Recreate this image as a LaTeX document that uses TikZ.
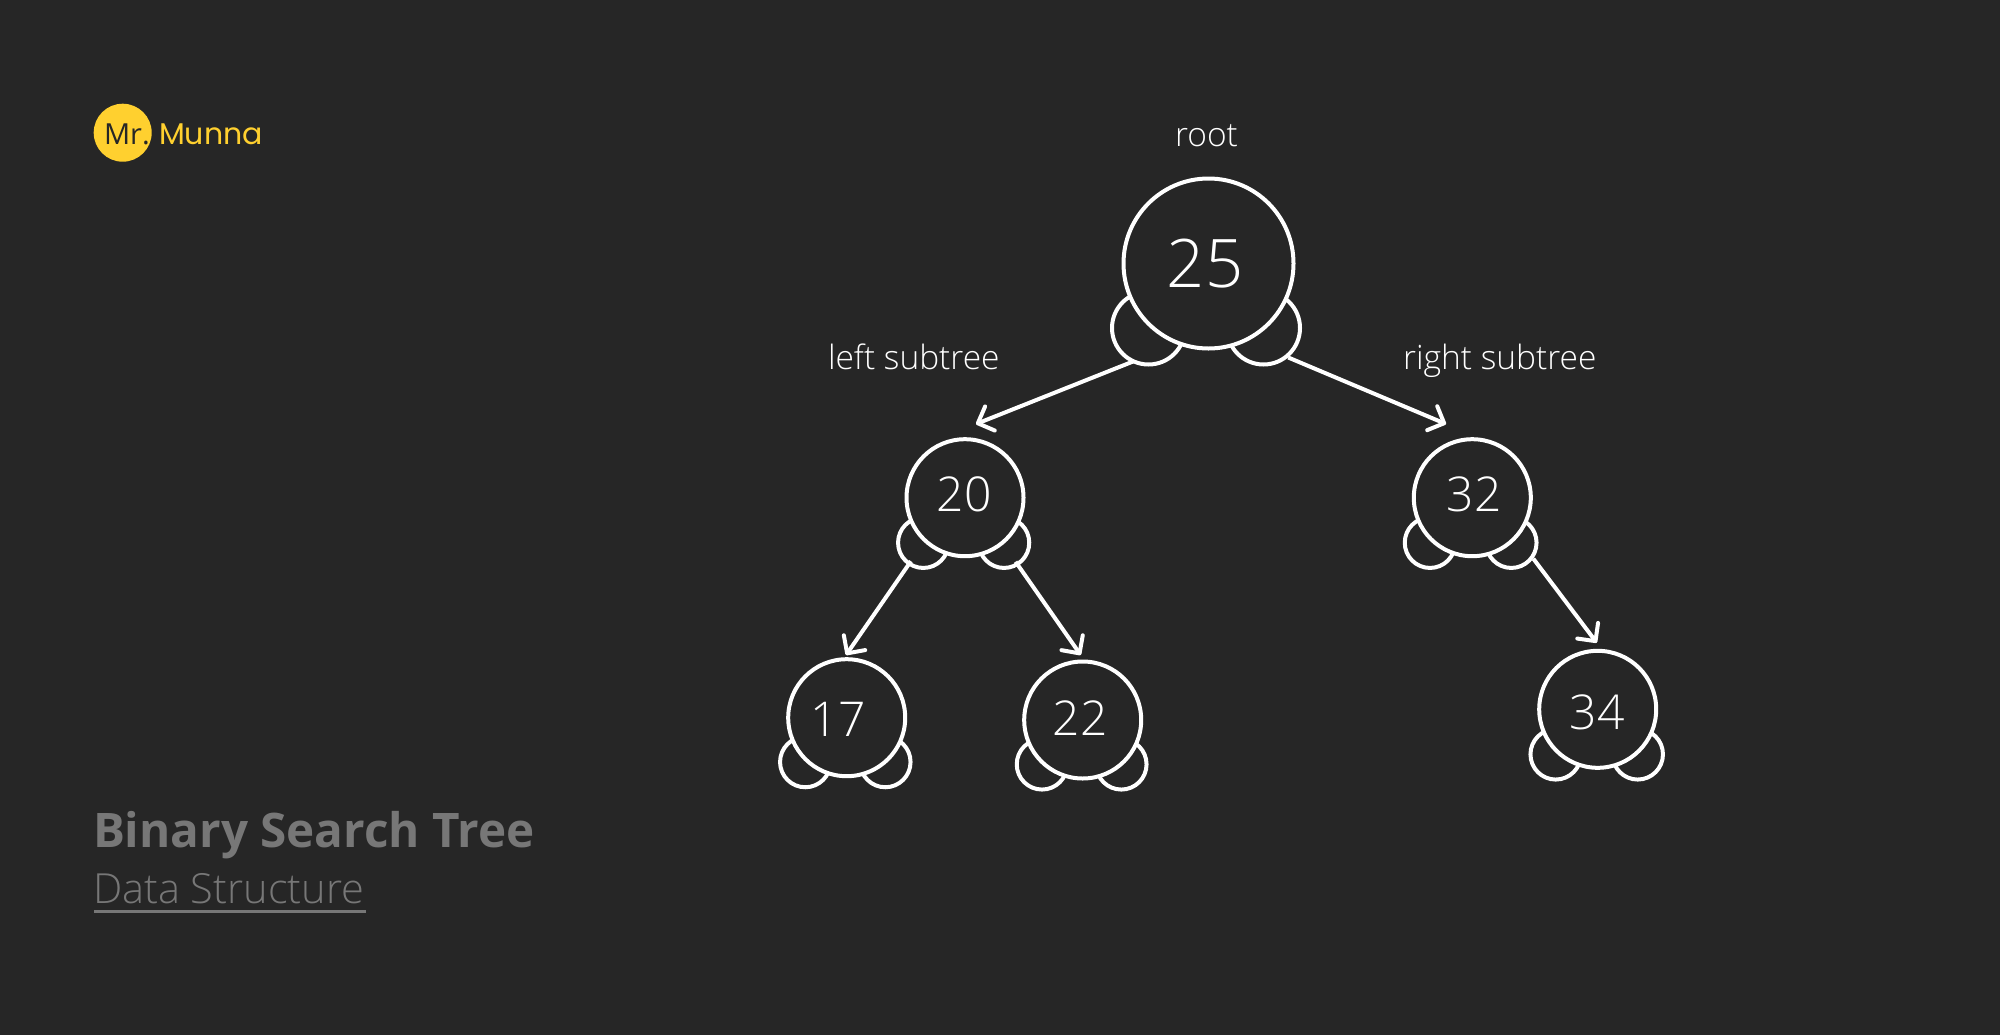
\documentclass[tikz,border=0pt]{standalone}
\usepackage{fontspec}
\usepackage{tikz}
\usetikzlibrary{arrows.meta}
\setmainfont{Open Sans}[UprightFont=* Light]
\newfontfamily\boldfont{Open Sans}[UprightFont=* Bold]
\newfontfamily\regfont{Open Sans}
\newfontfamily\logofont{Poppins}
\definecolor{bgdark}{HTML}{262626}
\definecolor{logoyellow}{HTML}{FFD02F}
\definecolor{titlegray}{HTML}{777777}

\begin{document}
\begin{tikzpicture}[x=1pt,y=-1pt,->,>={Straight Barb[length=13pt,width=26pt,round]},line width=4pt,white,
  tree node/.style={circle,fill=bgdark,draw=white,inner sep=0pt,minimum size=117pt},
  big node/.style={tree node,minimum size=170pt},
  cap node/.style={circle,draw=white,inner sep=0pt,minimum size=50.5pt},
  big cap/.style={cap node,minimum size=73pt},
  number/.style={inner sep=0pt,font=\fontsize{48}{48}\selectfont},
  big number/.style={number,font=\fontsize{67}{67}\selectfont},
  label node/.style={inner sep=0pt,anchor=base west,font=\fontsize{33.5}{33.5}\selectfont},
  inside/.style={shorten <=-5pt}]

  \useasboundingbox (0,0) rectangle (2000,1034);
  \fill[bgdark] (-5,-5) rectangle (2005,1039);

  % logo
  \node[circle,fill=logoyellow,inner sep=0pt,minimum size=58pt] (logo) at (122.7,132.7) {};
  \node[inner sep=0pt,anchor=base west,text=bgdark,font=\regfont\fontsize{29}{29}\selectfont] (mr) at (102,144) {Mr.};
  \node[inner sep=0pt,anchor=base west,text=logoyellow,font=\logofont\fontsize{30}{30}\selectfont] (munna) at (157,144) {Munna};

  % root
  \node[big cap] (rootl) at (1148.5,328) {};
  \node[big cap] (rootr) at (1263.5,328) {};
  \node[big node] (root) at (1208.5,263.5) {};
  \node[big number] (t25) at (1205,264) {25};

  % second level
  \node[cap node] (n20l) at (923.3,542.7) {};
  \node[cap node] (n20r) at (1004,542.7) {};
  \node[tree node] (n20) at (965,497.7) {};
  \node[number] (t20) at (964,494) {20};
  \node[cap node] (n32l) at (1430,542.7) {};
  \node[cap node] (n32r) at (1511.3,542.7) {};
  \node[tree node] (n32) at (1472.3,497.7) {};
  \node[number] (t32) at (1474,494) {32};

  % third level
  \node[cap node] (n17l) at (805.3,762) {};
  \node[cap node] (n17r) at (885.3,762) {};
  \node[tree node] (n17) at (846.7,717.7) {};
  \node[number] (t17) at (838,719.5) {17};
  \node[cap node] (n22l) at (1042,764.3) {};
  \node[cap node] (n22r) at (1121.3,764.3) {};
  \node[tree node] (n22) at (1082.7,720) {};
  \node[number] (t22) at (1080,718) {22};
  \node[cap node] (n34l) at (1555.7,754.3) {};
  \node[cap node] (n34r) at (1637.7,754.3) {};
  \node[tree node] (n34) at (1597.7,709.3) {};
  \node[number] (t34) at (1597,712) {34};

  % arrow ends
  \coordinate (to20) at (976,424);
  \coordinate (to32) at (1446,424);
  \coordinate (to17) at (846,655);
  \coordinate (to22) at (1080.7,655);
  \coordinate (to34) at (1596.7,642.7);

  \path
    (rootl.243) edge[shorten <=-3pt] (to20)
    (rootr.310) edge (to32)
    (n20l.236) edge[inside] (to17)
    (n20r.302) edge[inside] (to22)
    (n32r.324) edge (to34);

  % labels
  \node[label node] (rootlabel) at (1173,146) {root};
  \node[label node] (leftlabel) at (826,369) {left subtree};
  \node[label node] (rightlabel) at (1401,369) {right subtree};

  % title
  \node[inner sep=0pt,anchor=base west,text=titlegray,font=\boldfont\fontsize{47.6}{47.6}\selectfont] (title) at (91,847) {Binary Search Tree};
  \node[inner sep=0pt,anchor=base west,text=titlegray,font=\fontsize{41.5}{41.5}\selectfont] (subtitle) at (91,903.5) {Data Structure};
  \coordinate (ruleleft) at (94,911.3);
  \coordinate (ruleright) at (366,911.3);
  \draw[-,titlegray,line width=3pt] (ruleleft) -- (ruleright);
\end{tikzpicture}
\end{document}
